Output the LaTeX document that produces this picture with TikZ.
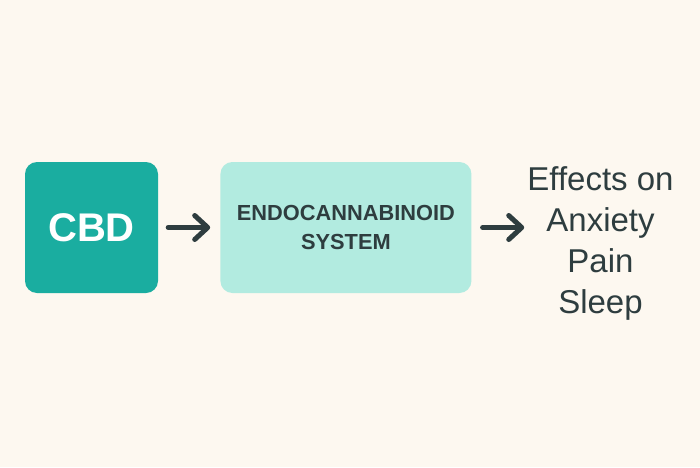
\documentclass[tikz,border=0pt]{standalone}
\usepackage{fontspec}
\setmainfont{Liberation Sans}
\usepackage{tikz}
\usetikzlibrary{positioning, arrows.meta}
\definecolor{cream}{HTML}{FDF8F0}
\definecolor{tealbox}{HTML}{1AADA0}
\definecolor{mintbox}{HTML}{B2EBE0}
\definecolor{ink}{HTML}{2E3D3F}
\tikzset{
  box/.style={rounded corners=12pt, minimum height=131pt, inner sep=0pt},
  flow/.style={ink, line width=5pt, line cap=round,
    -{Straight Barb[length=13pt, width=24pt, line cap=round, line join=round]},
    shorten <=10pt, shorten >=10pt}
}
\begin{document}
\begin{tikzpicture}[x=1pt, y=1pt]
    % Background
    \fill[cream] (0,0) rectangle (700,467);
    \useasboundingbox (0,0) rectangle (700,467);
    % Boxes
    \node[box, fill=tealbox, minimum width=133pt, text=white, font=\bfseries\fontsize{40}{48}\selectfont] (cbd) at (91.5,239.5) {CBD};
    \node[box, fill=mintbox, minimum width=251pt, right=62pt of cbd, text=ink, font=\bfseries\fontsize{21.8}{29}\selectfont, align=center] (ecs) {ENDOCANNABINOID\\SYSTEM};
    % Effects
    \node[text=ink, font=\fontsize{33}{41}\selectfont, align=center, inner sep=0pt] (effects) at (600.5,223.5) {Effects on\\Anxiety\\Pain\\Sleep};
    % Arrows
    \draw[flow] (cbd) -- (ecs);
    \draw[flow, shorten <=11pt, shorten >=3pt] (ecs.east) -- (ecs.east -| effects.west);
\end{tikzpicture}
\end{document}
